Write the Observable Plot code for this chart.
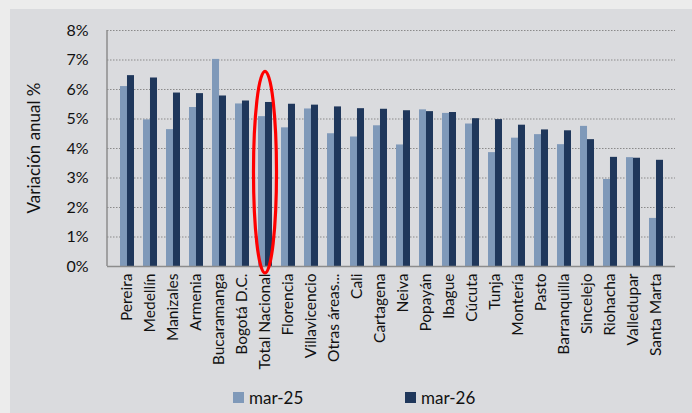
<!DOCTYPE html>
<html>
<head>
<meta charset="utf-8">
<script src="https://cdn.jsdelivr.net/npm/d3@7"></script>
<script src="https://cdn.jsdelivr.net/npm/@observablehq/plot@0.6"></script>
<style>
  html, body { margin: 0; padding: 0; background: #ececec; }
  #wrap { position: relative; width: 692px; height: 413px; overflow: hidden; font-family: Lato, "Liberation Sans", sans-serif; }
  #panel { position: absolute; left: 10px; top: 9px; right: 0; bottom: 0; background: #dadbde; }
  #chart { position: absolute; left: 0; top: 0; }
  #legend { position: absolute; top: 387px; left: 0; width: 692px; height: 24px; font-size: 17px; color: #111; }
  .li { position: absolute; top: 0; display: flex; align-items: center; gap: 5px; }
  .sw { width: 11px; height: 11px; display: inline-block; }
</style>
</head>
<body>
<div id="wrap">
  <div id="panel"></div>
  <div id="chart"></div>
  <div id="legend"></div>
</div>
<script>
const cities = ["Pereira","Medellín","Manizales","Armenia","Bucaramanga","Bogotá D.C.","Total Nacional","Florencia","Villavicencio","Otras áreas...","Cali","Cartagena","Neiva","Popayán","Ibague","Cúcuta","Tunja","Montería","Pasto","Barranquilla","Sincelejo","Riohacha","Valledupar","Santa Marta"];
const mar25 = [6.10,4.97,4.64,5.39,7.02,5.51,5.08,4.70,5.34,4.50,4.39,4.77,4.12,5.31,5.19,4.83,3.86,4.35,4.47,4.13,4.75,2.95,3.69,1.63];
const mar26 = [6.47,6.39,5.88,5.86,5.78,5.61,5.56,5.50,5.47,5.41,5.35,5.33,5.28,5.25,5.22,5.01,4.98,4.79,4.63,4.60,4.30,3.70,3.67,3.60];
const yTicks = [0,1,2,3,4,5,6,7,8];
const seriesNames = ["mar-25","mar-26"];
const colors = ["#7f99b9","#1f375b"];
const highlight = "Total Nacional";

const d25 = cities.map((c,i) => ({city: c, v: mar25[i] / 100}));
const d26 = cities.map((c,i) => ({city: c, v: mar26[i] / 100}));

const W = 692, H = 380;
const marginLeft = 107, marginRight = 17, marginTop = 30, marginBottom = 114;
const step = (W - marginLeft - marginRight) / (cities.length + 0.4);
const half = step * 0.6 / 2;

const plot = Plot.plot({
  width: W,
  height: H,
  marginLeft, marginRight, marginTop, marginBottom,
  style: { background: "transparent", fontFamily: "Lato, 'Liberation Sans', sans-serif", color: "#111" },
  x: { domain: cities, padding: 0.4, label: null, tickSize: 0, tickRotate: -90, tickPadding: 7 },
  y: { domain: [0, 0.08], ticks: yTicks.map(t => t/100), tickFormat: d => Math.round(d*100) + "%", label: null, tickSize: 0, tickPadding: 19 },
  marks: [
    Plot.ruleY(yTicks.slice(1).map(t => t/100), { stroke: "#8a8a8a", strokeWidth: 1.2, strokeDasharray: "1.5,1.5" }),
    Plot.barY(d25, { x: "city", y: "v", fill: colors[0], insetRight: half, insetLeft: 0 }),
    Plot.barY(d26, { x: "city", y: "v", fill: colors[1], insetLeft: half, insetRight: 0 }),
    Plot.ruleY([0], { stroke: "#8c8c8c", strokeWidth: 1.5 })
  ]
});

const svg = d3.select(plot);
svg.selectAll("g[aria-label='x-axis tick label']").attr("font-size", "15.5px").style("font-size", "15.5px");
svg.selectAll("g[aria-label='x-axis tick label'] text").style("font-size", "15.5px").style("fill", "#111");
svg.selectAll("g[aria-label='y-axis tick label']").attr("font-size", "16px").style("font-size", "16px");
svg.selectAll("g[aria-label='y-axis tick label'] text").style("font-size", "16px").style("fill", "#111");

const xs = plot.scale("x");
const ys = plot.scale("y");
// vertical axis line
svg.append("line")
  .attr("x1", xs.range[0]).attr("x2", xs.range[0])
  .attr("y1", ys.apply(0.08)).attr("y2", ys.apply(0))
  .attr("stroke", "#8c8c8c").attr("stroke-width", 1.5);
// y title
svg.append("text")
  .attr("transform", `translate(40,${(ys.apply(0)+ys.apply(0.08))/2}) rotate(-90)`)
  .attr("text-anchor", "middle")
  .attr("font-size", "17px").attr("fill", "#111")
  .attr("font-family", "Lato, 'Liberation Sans', sans-serif")
  .text("Variación anual %");
// highlight ellipse
const cx = xs.apply(highlight) + xs.bandwidth / 2;
const yTop = ys.apply(0.066), yBot = ys.apply(0) + 7;
svg.append("ellipse")
  .attr("cx", cx).attr("cy", (yTop + yBot) / 2)
  .attr("rx", 11.5).attr("ry", (yBot - yTop) / 2)
  .attr("fill", "none").attr("stroke", "#ff0000").attr("stroke-width", 3.2);

document.getElementById("chart").appendChild(plot);

const legend = document.getElementById("legend");
const lx = [233, 405];
seriesNames.forEach((n, i) => {
  const el = document.createElement("div");
  el.className = "li";
  el.style.left = lx[i] + "px";
  el.innerHTML = `<span class="sw" style="background:${colors[i]}"></span><span>${n}</span>`;
  legend.appendChild(el);
});
</script>
</body>
</html>
